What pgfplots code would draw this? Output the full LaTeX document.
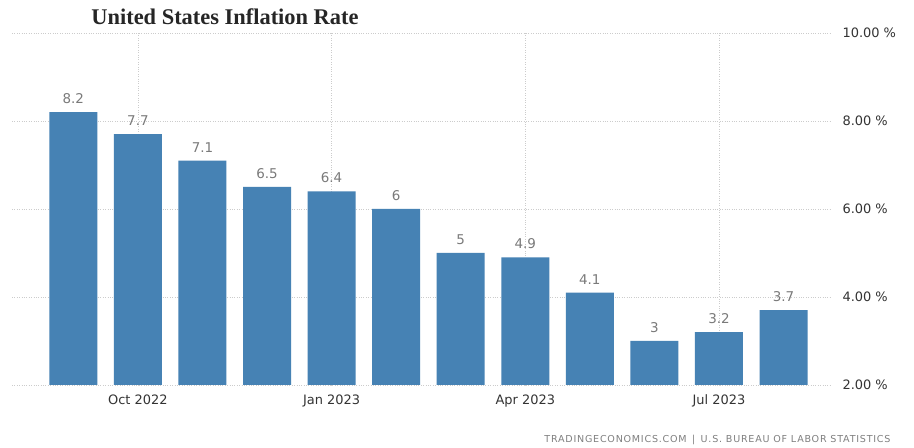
\documentclass[border=0pt]{standalone}
\usepackage{fontspec}
\setmainfont{DejaVu Sans}
\newfontfamily\titlefont{Liberation Serif}
\newfontfamily\srcfont[LetterSpace=8]{DejaVu Sans}
\usepackage{pgfplots}
\pgfplotsset{compat=1.18}
\definecolor{barblue}{HTML}{4682B4}
\definecolor{lblgray}{HTML}{7A7A7A}
\definecolor{tickgray}{HTML}{333333}
\begin{document}
\begin{tikzpicture}[x=1bp,y=1bp]
\useasboundingbox (0,0) rectangle (914,448);
\fill[white] (0,0) rectangle (914,448);
\begin{axis}[
  at={(12bp,63bp)}, anchor=south west,
  scale only axis, width=818bp, height=352bp,
  xmin=-0.95, xmax=11.72, ymin=2, ymax=10,
  axis line style={draw=none},
  major tick style={draw=none},
  ytick={2,4,6,8,10},
  yticklabel pos=right,
  yticklabel={\pgfmathprintnumber[fixed,fixed zerofill,precision=2]{\tick}~\%},
  yticklabel style={anchor=west, xshift=9bp, text=tickgray, font=\fontsize{13}{15}\selectfont},
  xtick={1,4,7,10},
  xticklabels={Oct 2022, Jan 2023, Apr 2023, Jul 2023},
  xticklabel style={text=tickgray, font=\fontsize{13}{15}\selectfont, yshift=-2bp},
  /pgf/number format/assume math mode=true,
  grid=major,
  major grid style={dotted, gray!40, line width=0.6bp},
  ybar, bar width=48bp,
  nodes near coords,
  nodes near coords style={text=lblgray, font=\fontsize{13.5}{15}\selectfont, yshift=5bp},
]
\addplot[fill=barblue, draw=none] coordinates {
(0,8.2)(1,7.7)(2,7.1)(3,6.5)(4,6.4)(5,6.0)(6,5.0)(7,4.9)(8,4.1)(9,3.0)(10,3.2)(11,3.7)};
\end{axis}
\node[font=\titlefont\bfseries\fontsize{22.5}{26}\selectfont, text=black!85] at (225,431) {United States Inflation Rate};
\node[anchor=east, font=\srcfont\fontsize{9.6}{11}\selectfont, text=gray] at (894,8) {TRADINGECONOMICS.COM \,|\, U.S. BUREAU OF LABOR STATISTICS};
\end{tikzpicture}
\end{document}
